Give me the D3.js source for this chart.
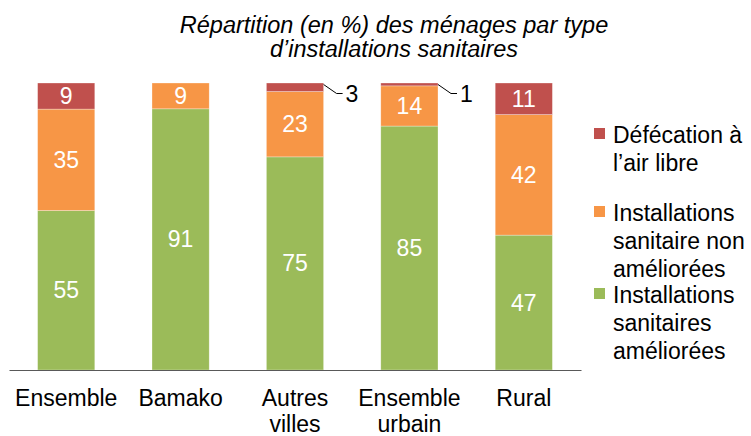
<!doctype html>
<html lang="fr">
<head>
    <meta charset="UTF-8">
    <title>Répartition des ménages par type d'installations sanitaires</title>
    <script src="https://d3js.org/d3.v7.min.js"></script>
    <style>
      body { margin: 0; background: #fff; }
      text { font-family: "Liberation Sans", Arial, sans-serif; }
    </style>
</head>
<body>
    <svg width="751" height="436"></svg>

    <script>

      // Data
      const categories = ["Ensemble", "Bamako", "Autres villes", "Ensemble urbain", "Rural"];
      const tickLabels = [["Ensemble"], ["Bamako"], ["Autres", "villes"], ["Ensemble", "urbain"], ["Rural"]];
      const ameliorees = [55, 91, 75, 85, 47];
      const nonAmeliorees = [35, 9, 23, 14, 42];
      const defecation = [9, 0, 3, 1, 11];

      const seriesKeys = ["ameliorees", "nonAmeliorees", "defecation"];
      const seriesLabels = [
        ["Installations", "sanitaires", "améliorées"],
        ["Installations", "sanitaire non", "améliorées"],
        ["Défécation à", "l’air libre"]
      ];
      const colors = ["#9BBB59", "#F79646", "#C0504D"];
      const titleLines = ["Répartition (en %) des ménages par type", "d’installations sanitaires"];

      const rows = categories.map((c, i) => ({
        category: c,
        ameliorees: ameliorees[i],
        nonAmeliorees: nonAmeliorees[i],
        defecation: defecation[i]
      }));

      // SVG and scales
      const svg = d3.select("svg");
      const x = d3.scaleBand()
          .domain(categories)
          .range([9, 581])
          .paddingInner(0.5)
          .paddingOuter(0.25);
      const y = d3.scaleLinear()
          .domain([0, 1])
          .range([370, 83]);
      const color = d3.scaleOrdinal().domain(seriesKeys).range(colors);

      // 100% stacked
      const stacked = d3.stack()
          .keys(seriesKeys)
          .offset(d3.stackOffsetExpand)(rows);

      // Title
      svg.append("text")
          .attr("x", 394)
          .attr("y", 33)
          .attr("text-anchor", "middle")
          .style("font-size", "23.5px")
          .style("font-style", "italic")
          .selectAll("tspan")
          .data(titleLines)
          .join("tspan")
          .attr("x", 394)
          .attr("dy", (d, i) => i ? 24 : 0)
          .text(d => d);

      // Bars
      const layers = svg.append("g")
          .selectAll("g")
          .data(stacked)
          .join("g")
          .attr("fill", d => color(d.key));

      layers.selectAll("rect")
          .data(d => d.filter(s => s.data[d.key] > 0))
          .join("rect")
          .attr("x", d => x(d.data.category))
          .attr("y", d => y(d[1]))
          .attr("width", x.bandwidth())
          .attr("height", d => y(d[0]) - y(d[1]))
          .attr("stroke", "#fff")
          .attr("stroke-opacity", 0.5)
          .attr("stroke-width", 0.6);

      // Data labels
      stacked.forEach(layer => {
        layer.forEach(s => {
          const v = s.data[layer.key];
          if (!v) return;
          const x0 = x(s.data.category);
          const h = y(s[0]) - y(s[1]);
          if (h > 14) {
            svg.append("text")
                .attr("x", x0 + x.bandwidth() / 2)
                .attr("y", (y(s[0]) + y(s[1])) / 2 + 8)
                .attr("text-anchor", "middle")
                .attr("fill", "#fff")
                .style("font-size", "23px")
                .text(v);
          } else {
            // small slice: label outside with a leader line
            const xr = x0 + x.bandwidth();
            const yt = y(s[1]) + 1.5;
            const ly = yt + 9;
            svg.append("path")
                .attr("d", `M${xr},${yt}L${xr + 13},${ly}H${xr + 19}`)
                .attr("fill", "none")
                .attr("stroke", "#000")
                .attr("stroke-width", 1);
            svg.append("text")
                .attr("x", xr + 22)
                .attr("y", ly + 8)
                .attr("fill", "#000")
                .style("font-size", "23px")
                .text(v);
          }
        });
      });

      // Axis
      const axis = d3.axisBottom(x).tickSize(0).tickPadding(0).tickFormat("");
      const axisG = svg.append("g")
          .attr("transform", "translate(0,370)")
          .call(axis);
      axisG.select(".domain").attr("stroke", "#595959").attr("stroke-width", 1.2);

      axisG.selectAll(".tick text").remove();
      axisG.selectAll(".tick")
          .append("text")
          .attr("fill", "#000")
          .attr("text-anchor", "middle")
          .style("font-size", "23px")
          .selectAll("tspan")
          .data((d, i) => tickLabels[i])
          .join("tspan")
          .attr("x", 0)
          .attr("y", (d, i) => 36 + i * 26)
          .text(d => d);

      // Legend (top entry is the top segment)
      const legendBaselines = [303, 221, 143];
      const legend = svg.append("g");
      seriesKeys.forEach((k, i) => {
        legend.append("rect")
            .attr("x", 594)
            .attr("y", legendBaselines[i] - 15)
            .attr("width", 11)
            .attr("height", 11)
            .attr("fill", color(k));
        legend.append("text")
            .attr("x", 613)
            .attr("y", legendBaselines[i])
            .style("font-size", "23px")
            .selectAll("tspan")
            .data(seriesLabels[i])
            .join("tspan")
            .attr("x", 613)
            .attr("dy", (d, j) => j ? 28 : 0)
            .text(d => d);
      });

    </script>

</body>
</html>
